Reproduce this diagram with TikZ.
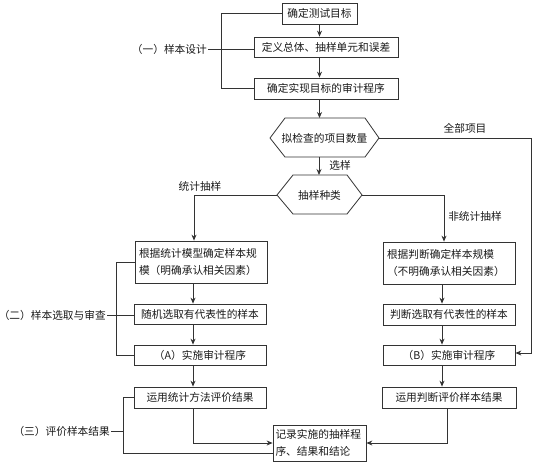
\documentclass[tikz,border=0pt]{standalone}
\usepackage{fontspec}
\setmainfont{Liberation Serif}
\newfontfamily\cjk{Noto Sans CJK SC}
\usetikzlibrary{arrows.meta,calc}
\begin{document}
\begin{tikzpicture}[x=1pt,y=-1pt,
  every node/.style={font=\cjk\fontsize{10.7}{17}\selectfont, text=black!90},
  box/.style={draw=black!80, line width=0.8pt, inner sep=0pt, align=center},
  hexa/.style={draw=black!80, line width=0.8pt},
  conn/.style={draw=black!80, line width=0.8pt},
  arr/.style={conn, -{Stealth[length=6pt,width=5pt]}},
  lbl/.style={inner sep=1pt}]
\useasboundingbox (0,0) rectangle (537,464);

% top boxes
\node[box, minimum width=75pt, minimum height=21pt] (b1) at (319.5,13.5) {确定测试目标};
\node[box, minimum width=144pt, minimum height=20pt] (b2) at (326,47) {定义总体、抽样单元和误差};
\node[box, minimum width=144pt, minimum height=21pt] (b3) at (326,88.5) {确定实现目标的审计程序};

% hexagons
\draw[hexa] (270,138) -- (285,118) -- (365,118) -- (379,138) -- (365,157) -- (285,157) -- cycle;
\node (h1) at (324.5,138) {拟检查的项目数量};
\coordinate (h1l) at (270,138);
\coordinate (h1r) at (379,138);
\coordinate (h1b) at (319,157);
\draw[hexa] (277,195) -- (293,175) -- (347,175) -- (362,195) -- (347,214) -- (293,214) -- cycle;
\node (h2) at (319.5,195) {抽样种类};
\coordinate (h2l) at (277,195);
\coordinate (h2r) at (362,195);
\coordinate (h2t) at (319,175);

% left column
\node[box, minimum width=132pt, minimum height=42pt, text width=124pt, align=left] (L1) at (201,262) {根据统计模型确定样本规\\模（明确承认相关因素）};
\node[box, minimum width=132pt, minimum height=20pt] (L2) at (200,314) {随机选取有代表性的样本};
\node[box, minimum width=132pt, minimum height=20pt] (LA) at (200,355) {（A）实施审计程序};
\node[box, minimum width=132pt, minimum height=21pt] (LE) at (200,397.5) {运用统计方法评价结果};

% right column
\node[box, minimum width=132pt, minimum height=42pt, text width=124pt, align=left] (R1) at (449,263) {根据判断确定样本规模\\（不明确承认相关因素）};
\node[box, minimum width=132pt, minimum height=21pt] (R2) at (449,314.5) {判断选取有代表性的样本};
\node[box, minimum width=132pt, minimum height=20pt] (RB) at (449,355) {（B）实施审计程序};
\node[box, minimum width=134pt, minimum height=21pt] (RE) at (449,397.5) {运用判断评价样本结果};

% record box
\node[box, minimum width=93pt, minimum height=36pt, text width=88pt, align=left] (rec) at (319.5,443) {记录实施的抽样程\\序、结果和结论};

% side labels
\node[lbl, anchor=east] (lab1) at (208,49) {（一）样本设计};
\node[lbl, anchor=east] (lab2) at (107,315) {（二）样本选取与审查};
\node[lbl, anchor=east] (lab3) at (111,431) {（三）评价样本结果};

% edge labels
\node (t1) at (340,165) {选样};
\node (t2) at (465,128) {全部项目};
\node (t3) at (475,216) {非统计抽样};
\node (t4) at (200,186) {统计抽样};

% top arrows
\draw[arr] (b1.south) -- (b1.south |- b2.north);
\draw[arr] (b1.south |- b2.south) -- (b1.south |- b3.north);
\draw[arr] (b1.south |- b3.south) -- (b1.south |- 0,118);
\draw[arr] (h1b) -- (h2t);

% branches
\coordinate (cl) at (194,195);
\coordinate (cr) at (444,195);
\coordinate (cf) at (531,138);
\draw[arr] (h2l) -- (cl) -- (cl |- L1.north);
\draw[arr] (h2r) -- (cr) -- (cr |- R1.north);
\draw[arr] (h1r) -- (cf) -- (cf |- 0,353) -- (RB.east |- 0,353);

% left column arrows
\coordinate (al) at (193,0);
\draw[arr] (al |- L1.south) -- (al |- L2.north);
\draw[arr] (al |- L2.south) -- (al |- LA.north);
\draw[arr] (al |- LA.south) -- (al |- LE.north);
\draw[arr] (al |- LE.south) -- (al |- rec.west) -- (rec.west);

% right column arrows
\coordinate (ar) at (442,0);
\draw[arr] (ar |- R1.south) -- (ar |- R2.north);
\draw[arr] (ar |- R2.south) -- (ar |- RB.north);
\draw[arr] (ar |- RB.south) -- (ar |- RE.north);
\draw[arr] (447,0 |- RE.south) -- (447,0 |- rec.east) -- (rec.east);

% brackets
\coordinate (k1) at (221,0);
\draw[conn] (b1.west) -- (b1.west -| k1) -- (k1 |- b3.west) -- (b3.west);
\draw[conn] (lab1.east) -- (lab1.east -| b2.west);
\coordinate (k2) at (116,0);
\draw[conn] (L1.west) -- (L1.west -| k2) -- (k2 |- LA.west) -- (LA.west);
\draw[conn] (lab2.east) -- (lab2.east -| L2.west);
\coordinate (k3) at (123,0);
\coordinate (recb) at ($(rec.west)+(0,10)$);
\draw[conn] (LE.west) -- (LE.west -| k3) -- (k3 |- recb) -- (recb);
\draw[conn] (lab3.east) -- (lab3.east -| k3);
\end{tikzpicture}
\end{document}
